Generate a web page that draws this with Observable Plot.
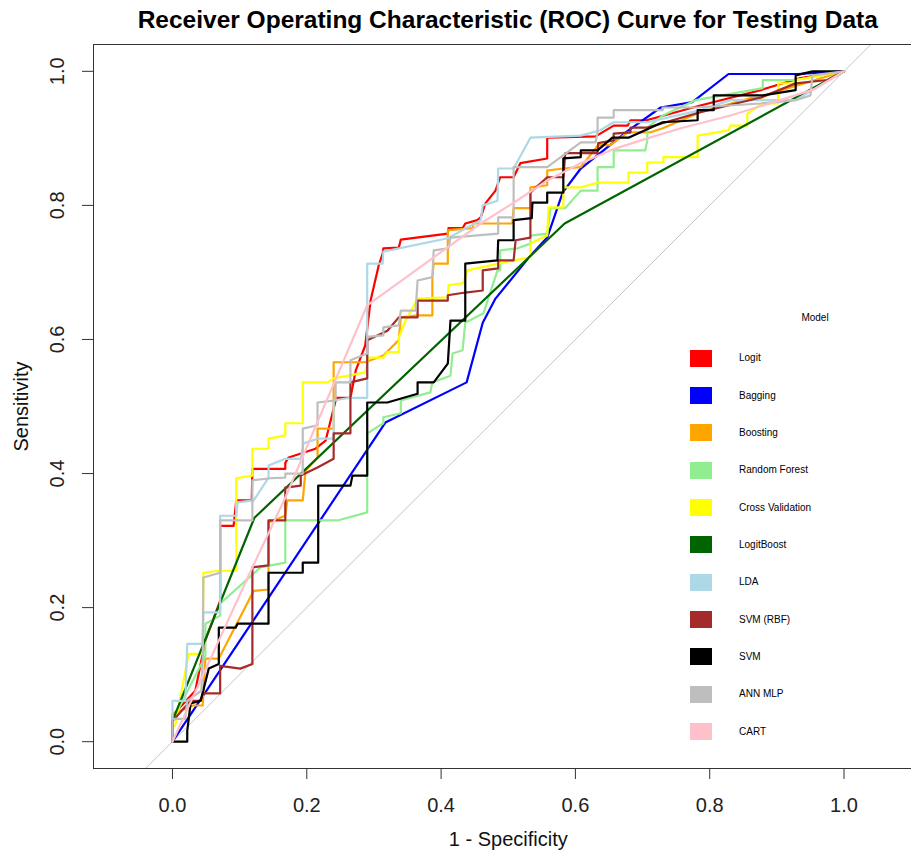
<!DOCTYPE html>
<html>
<head>
<meta charset="utf-8">
<script src="https://cdn.jsdelivr.net/npm/d3@7"></script>
<script src="https://cdn.jsdelivr.net/npm/@observablehq/plot@0.6"></script>
<style>
  html, body { margin: 0; padding: 0; background: #fff; }
  #wrap { position: relative; width: 911px; height: 851px; overflow: hidden; font-family: "Liberation Sans", Arial, sans-serif; }
  #title { position: absolute; left: 0; top: 8px; width: 1015.5px; text-align: center; font-weight: bold; font-size: 24.5px; line-height: 24px; color: #000; }
  #legend { position: absolute; left: 0; top: 0; width: 911px; height: 851px; pointer-events: none; }
  .lg-title { position: absolute; font-size: 10px; line-height: 12px; color: #000; transform: translate(-50%, -50%); }
  .lg-key { position: absolute; width: 22px; height: 17px; }
  .lg-label { position: absolute; font-size: 10px; line-height: 12px; color: #000; transform: translateY(-50%); white-space: nowrap; }
</style>
</head>
<body>
<div id="wrap">
  <div id="chart"></div>
  <div id="title"></div>
  <div id="legend"></div>
</div>
<script>
// ---------- texts ----------
const chartTitle = "Receiver Operating Characteristic (ROC) Curve for Testing Data";
const xLabel = "1 - Specificity";
const yLabel = "Sensitivity";
const legendTitle = "Model";

// ---------- axes ----------
const xTicks = [0.0, 0.2, 0.4, 0.6, 0.8, 1.0];
const yTicks = [0.0, 0.2, 0.4, 0.6, 0.8, 1.0];
const xDomain = [-0.1176, 1.1176];
const yDomain = [-0.04, 1.04];

// ---------- models ----------
const models = ["Logit", "Bagging", "Boosting", "Random Forest", "Cross Validation", "LogitBoost", "LDA", "SVM (RBF)", "SVM", "ANN MLP", "CART"];
const colors = ["#FF0000", "#0000FF", "#FFA500", "#90EE90", "#FFFF00", "#006400", "#ADD8E6", "#A52A2A", "#000000", "#BEBEBE", "#FFC0CB"];

// ---------- ROC points [1 - specificity, sensitivity] ----------
const logit = [[0,0],[0,0.039],[0.034,0.076],[0.049,0.151],[0.071,0.210],[0.071,0.322],[0.091,0.322],[0.095,0.360],[0.118,0.360],[0.119,0.407],[0.168,0.407],[0.168,0.416],[0.173,0.424],[0.213,0.437],[0.228,0.449],[0.244,0.513],[0.265,0.513],[0.273,0.554],[0.287,0.591],[0.295,0.658],[0.307,0.710],[0.313,0.728],[0.314,0.736],[0.337,0.737],[0.340,0.749],[0.410,0.758],[0.411,0.766],[0.432,0.766],[0.436,0.773],[0.454,0.778],[0.459,0.782],[0.466,0.803],[0.481,0.822],[0.488,0.842],[0.508,0.842],[0.518,0.863],[0.558,0.870],[0.558,0.901],[0.630,0.903],[0.657,0.919],[0.678,0.919],[0.682,0.927],[0.706,0.927],[0.786,0.949],[0.876,0.972],[0.935,0.990],[1,1]];

const bagging = [[0,0],[0.317,0.476],[0.438,0.536],[0.462,0.625],[0.481,0.661],[0.533,0.725],[0.558,0.752],[0.581,0.819],[0.608,0.855],[0.679,0.912],[0.727,0.946],[0.774,0.954],[0.828,0.996],[0.931,0.996],[1,1]];

const boosting = [[0,0],[0,0.042],[0.006,0.043],[0.030,0.054],[0.045,0.054],[0.049,0.124],[0.069,0.124],[0.121,0.225],[0.143,0.227],[0.143,0.327],[0.168,0.337],[0.171,0.360],[0.194,0.360],[0.198,0.404],[0.216,0.424],[0.216,0.467],[0.240,0.467],[0.240,0.566],[0.287,0.566],[0.314,0.576],[0.337,0.599],[0.340,0.633],[0.365,0.636],[0.387,0.636],[0.387,0.693],[0.389,0.713],[0.410,0.713],[0.410,0.763],[0.447,0.766],[0.448,0.773],[0.506,0.773],[0.508,0.796],[0.533,0.796],[0.533,0.827],[0.558,0.830],[0.558,0.852],[0.582,0.855],[0.608,0.857],[0.634,0.890],[0.652,0.890],[0.678,0.909],[0.712,0.909],[0.730,0.915],[0.786,0.939],[0.861,0.960],[0.876,0.960],[0.891,0.967],[1,1]];

const randomForest = [[0,0],[0,0.031],[0.049,0.128],[0.049,0.176],[0.071,0.188],[0.071,0.206],[0.131,0.260],[0.168,0.267],[0.168,0.330],[0.246,0.330],[0.290,0.342],[0.290,0.460],[0.314,0.475],[0.314,0.484],[0.340,0.490],[0.340,0.509],[0.384,0.521],[0.387,0.536],[0.414,0.546],[0.417,0.579],[0.432,0.584],[0.436,0.625],[0.463,0.639],[0.484,0.703],[0.488,0.703],[0.488,0.733],[0.514,0.736],[0.533,0.743],[0.533,0.755],[0.558,0.758],[0.563,0.796],[0.585,0.796],[0.608,0.822],[0.633,0.822],[0.633,0.857],[0.657,0.857],[0.657,0.882],[0.704,0.882],[0.707,0.897],[0.707,0.916],[0.730,0.934],[0.779,0.957],[0.879,0.975],[0.879,0.987],[0.928,0.987],[1,1]];

const crossValidation = [[0,0],[0,0.024],[0.004,0.024],[0.024,0.131],[0.045,0.131],[0.046,0.252],[0.069,0.255],[0.095,0.255],[0.095,0.393],[0.119,0.397],[0.119,0.437],[0.143,0.437],[0.143,0.452],[0.168,0.457],[0.168,0.475],[0.194,0.475],[0.194,0.536],[0.231,0.536],[0.240,0.542],[0.287,0.551],[0.292,0.573],[0.314,0.573],[0.320,0.581],[0.337,0.581],[0.337,0.603],[0.347,0.628],[0.365,0.661],[0.410,0.663],[0.411,0.681],[0.433,0.684],[0.439,0.703],[0.508,0.718],[0.533,0.722],[0.533,0.743],[0.558,0.755],[0.560,0.797],[0.582,0.797],[0.582,0.827],[0.608,0.827],[0.634,0.834],[0.679,0.834],[0.679,0.849],[0.707,0.849],[0.707,0.864],[0.731,0.864],[0.731,0.872],[0.782,0.872],[0.782,0.904],[0.828,0.912],[0.831,0.919],[0.856,0.919],[0.856,0.937],[0.879,0.952],[0.902,0.952],[0.902,0.982],[0.928,0.982],[0.928,0.987],[1,1]];

const logitBoost = [[0,0],[0,0.031],[0.122,0.334],[0.584,0.773],[1,1]];

const lda = [[0,0],[0,0.061],[0.019,0.061],[0.022,0.146],[0.045,0.146],[0.046,0.193],[0.071,0.193],[0.071,0.337],[0.095,0.337],[0.097,0.357],[0.121,0.360],[0.143,0.394],[0.143,0.412],[0.168,0.422],[0.191,0.422],[0.195,0.445],[0.216,0.452],[0.240,0.452],[0.240,0.509],[0.265,0.513],[0.290,0.513],[0.290,0.713],[0.313,0.713],[0.314,0.731],[0.410,0.751],[0.459,0.778],[0.462,0.800],[0.484,0.807],[0.485,0.855],[0.508,0.855],[0.533,0.901],[0.608,0.904],[0.637,0.912],[0.657,0.924],[0.707,0.924],[0.786,0.942],[0.831,0.957],[0.928,0.957],[1,1]];

const svmRbf = [[0,0],[0,0.031],[0.027,0.061],[0.042,0.061],[0.045,0.072],[0.071,0.072],[0.071,0.113],[0.101,0.109],[0.119,0.116],[0.119,0.260],[0.143,0.263],[0.143,0.330],[0.168,0.330],[0.168,0.379],[0.191,0.382],[0.191,0.397],[0.216,0.409],[0.240,0.422],[0.240,0.460],[0.265,0.460],[0.265,0.536],[0.290,0.542],[0.290,0.599],[0.320,0.613],[0.337,0.633],[0.365,0.633],[0.365,0.658],[0.410,0.658],[0.410,0.666],[0.436,0.670],[0.462,0.673],[0.462,0.703],[0.485,0.706],[0.485,0.718],[0.508,0.718],[0.511,0.748],[0.533,0.752],[0.533,0.819],[0.558,0.842],[0.582,0.842],[0.585,0.878],[0.633,0.878],[0.634,0.893],[0.657,0.897],[0.657,0.907],[0.682,0.909],[0.682,0.916],[0.707,0.916],[0.786,0.939],[0.876,0.961],[0.928,0.982],[0.975,0.987],[1,1]];

const svm = [[0,0],[0.022,0],[0.022,0.016],[0.027,0.057],[0.042,0.061],[0.054,0.109],[0.069,0.116],[0.069,0.170],[0.094,0.170],[0.097,0.176],[0.143,0.176],[0.143,0.252],[0.194,0.252],[0.194,0.267],[0.217,0.267],[0.217,0.382],[0.265,0.382],[0.268,0.397],[0.290,0.397],[0.290,0.506],[0.320,0.506],[0.365,0.519],[0.365,0.536],[0.389,0.536],[0.410,0.564],[0.414,0.628],[0.436,0.628],[0.436,0.713],[0.484,0.718],[0.485,0.748],[0.508,0.748],[0.508,0.778],[0.535,0.781],[0.536,0.804],[0.558,0.804],[0.558,0.819],[0.582,0.819],[0.582,0.870],[0.608,0.872],[0.608,0.882],[0.633,0.882],[0.655,0.901],[0.679,0.901],[0.730,0.924],[0.782,0.927],[0.782,0.942],[0.806,0.942],[0.806,0.964],[0.879,0.964],[0.928,0.972],[0.928,0.994],[0.953,1],[1,1]];

const annMlp = [[0,0],[0,0.034],[0.019,0.034],[0.022,0.061],[0.043,0.076],[0.045,0.121],[0.046,0.245],[0.071,0.252],[0.071,0.330],[0.119,0.330],[0.119,0.390],[0.146,0.393],[0.168,0.394],[0.168,0.400],[0.194,0.400],[0.194,0.467],[0.216,0.472],[0.216,0.506],[0.243,0.509],[0.243,0.536],[0.265,0.536],[0.265,0.569],[0.290,0.579],[0.290,0.604],[0.314,0.606],[0.314,0.618],[0.337,0.621],[0.340,0.643],[0.362,0.643],[0.365,0.688],[0.387,0.693],[0.389,0.733],[0.411,0.736],[0.414,0.752],[0.485,0.758],[0.485,0.782],[0.508,0.782],[0.508,0.857],[0.558,0.857],[0.608,0.894],[0.630,0.894],[0.633,0.909],[0.633,0.931],[0.657,0.931],[0.657,0.942],[0.730,0.942],[0.730,0.946],[0.779,0.946],[0.876,0.952],[0.928,0.957],[0.950,0.964],[0.953,0.994],[1,1]];

const cart = [[0,0],[0.119,0.260],[0.168,0.364],[0.290,0.651],[0.459,0.773],[0.508,0.804],[0.558,0.837],[0.608,0.863],[0.657,0.884],[0.707,0.900],[0.757,0.915],[0.831,0.934],[0.905,0.957],[0.955,0.973],[1,1]];

const series = [logit, bagging, boosting, randomForest, crossValidation, logitBoost, lda, svmRbf, svm, annMlp, cart];

// ---------- chart ----------
const font = "'Liberation Sans', Arial, sans-serif";
const diagonal = [[xDomain[0], xDomain[0]], [xDomain[1], xDomain[1]]];

const marks = [
  Plot.line(diagonal, {x: d => d[0], y: d => d[1], stroke: "#c4c4c4", strokeWidth: 1, clip: true})
];
series.forEach((pts, i) => {
  marks.push(Plot.line(pts, {x: d => d[0], y: d => d[1], stroke: colors[i], strokeWidth: 2.2, clip: true}));
});
marks.push(
  Plot.frame({stroke: "#333", strokeWidth: 1}),
  Plot.axisX({ticks: xTicks, tickSize: 11, tickPadding: 18, fontSize: 20, tickFormat: d => d.toFixed(1), label: null, stroke: "#333", color: "#222"}),
  Plot.axisY({ticks: yTicks, tickSize: 11, tickFormat: () => "", label: null, stroke: "#333"}),
  Plot.text(yTicks, {y: d => d, text: d => d.toFixed(1), frameAnchor: "left", dx: -36, rotate: -90, fontSize: 20, textAnchor: "middle", lineAnchor: "middle", fill: "#222"}),
  Plot.text([yLabel], {text: d => d, frameAnchor: "left", dx: -72, rotate: -90, fontSize: 20, textAnchor: "middle", lineAnchor: "middle", fill: "#111"}),
  Plot.text([xLabel], {text: d => d, frameAnchor: "bottom", dy: 71, fontSize: 20, textAnchor: "middle", lineAnchor: "middle", fill: "#111"})
);

const chart = Plot.plot({
  width: 911,
  height: 851,
  marginLeft: 93,
  marginRight: -11.5,
  marginTop: 44,
  marginBottom: 83,
  x: {domain: xDomain, axis: null},
  y: {domain: yDomain, axis: null},
  style: {fontFamily: font, background: "#fff", overflow: "hidden"},
  marks
});
document.getElementById("chart").appendChild(chart);

// ---------- title ----------
document.getElementById("title").textContent = chartTitle;

// ---------- legend (overlay inside plot area) ----------
const lg = document.getElementById("legend");
const lgT = document.createElement("div");
lgT.className = "lg-title";
lgT.textContent = legendTitle;
lgT.style.left = "815px";
lgT.style.top = "318px";
lg.appendChild(lgT);
models.forEach((m, i) => {
  const cy = 358.3 + i * 37.33;
  const k = document.createElement("div");
  k.className = "lg-key";
  k.style.left = "690px";
  k.style.top = (cy - 8.5) + "px";
  k.style.background = colors[i];
  lg.appendChild(k);
  const t = document.createElement("div");
  t.className = "lg-label";
  t.textContent = m;
  t.style.left = "739px";
  t.style.top = cy + "px";
  lg.appendChild(t);
});
</script>
</body>
</html>
